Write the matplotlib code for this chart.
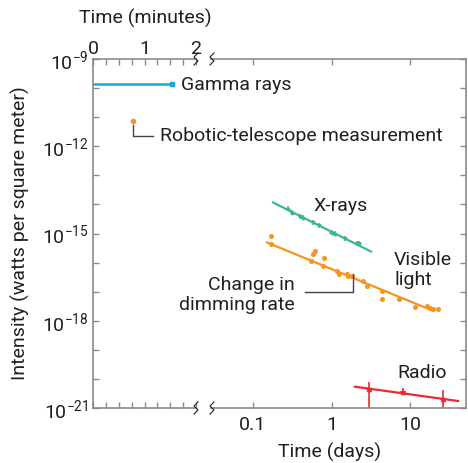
import numpy as np
import matplotlib
matplotlib.use("Agg")
import matplotlib.pyplot as plt
from matplotlib.lines import Line2D
from matplotlib.ticker import NullFormatter, NullLocator

plt.rcParams['font.family'] = ['Roboto', 'DejaVu Sans']
plt.rcParams['mathtext.fontset'] = 'custom'
plt.rcParams['mathtext.rm'] = 'Roboto'
plt.rcParams['mathtext.it'] = 'Roboto:italic'
plt.rcParams['mathtext.bf'] = 'Roboto:bold'

# data
gamma_t = [0.0, 1.53]          # minutes
gamma_f = [1.38e-10, 1.38e-10]
robotic_t = [0.78]
robotic_f = [7.2e-12]

xray_d = [0.279, 0.314, 0.397, 0.434, 0.581, 0.693, 1.01, 1.11, 1.49, 2.11, 2.24]
xray_f = [7.2e-15, 5.2e-15, 3.9e-15, 3.5e-15, 2.4e-15, 1.9e-15, 1.07e-15, 1.0e-15, 6.8e-16, 4.6e-16, 4.6e-16]
xray_fit_d = [0.18, 3.18]
xray_fit_f = [1.17e-14, 2.4e-16]

vis_d = [0.169, 0.169, 0.548, 0.581, 0.617, 0.780, 0.802, 1.17, 1.25, 1.57, 1.62,
         1.82, 2.52, 2.83, 4.40, 4.40, 7.24, 11.6, 16.5, 18.0, 19.6, 22.8]
vis_f = [7.9e-16, 4.2e-16, 1.17e-16, 1.9e-16, 2.6e-16, 7.9e-17, 1.48e-16, 5.2e-17, 3.9e-17, 4.2e-17, 3.5e-17,
         3.5e-17, 2.4e-17, 1.6e-17, 1.07e-17, 5.8e-18, 5.8e-18, 3.0e-18, 3.3e-18, 2.8e-18, 2.6e-18, 2.6e-18]
vis_fit_d = [0.151, 19.6]
vis_fit_f = [4.9e-16, 2.2e-18]

radio_d = [3.0, 8.15, 26.1]
radio_f = [4.6e-21, 3.5e-21, 2.1e-21]
radio_lo = [1e-22, 2.7e-21, 1e-22]
radio_hi = [8.1e-21, 4.7e-21, 4.2e-21]
radio_fit_d = [1.99, 40.8]
radio_fit_f = [5.4e-21, 1.74e-21]

minute_ticks = [0, 1, 2]
day_ticks = [0.1, 1, 10]
day_labels = ['0.1', '1', '10']
ylabel_exps = [-21, -18, -15, -12, -9]

BLUE = '#1aa8df'
ORANGE = '#f7941d'
GREEN = '#3cb88c'
RED = '#ee2a30'
SPINE = '#8a8a8a'
TXT = '#231f20'
FS = 14

W, H = 468, 463
fig = plt.figure(figsize=(W / 100, H / 100), dpi=100)


def fx(x):
    return x / W


def fy(y):
    return 1 - y / H


bot, top = fy(408), fy(59)
axL = fig.add_axes([fx(93), bot, fx(196) - fx(93), top - bot])
axR = fig.add_axes([fx(211), bot, fx(466) - fx(211), top - bot])

for ax in (axL, axR):
    ax.set_yscale('log')
    ax.set_ylim(1e-21, 1e-9)
    for s in ax.spines.values():
        s.set_color(SPINE)
        s.set_linewidth(1.2)
    ax.tick_params(which='both', direction='in', color=SPINE, length=4, width=1,
                   labelsize=FS, labelcolor=TXT, pad=3)
    ax.set_yticks([10.0 ** e for e in ylabel_exps])
    ax.set_yticks([10.0 ** e for e in range(-21, -8)], minor=True)
    ax.yaxis.set_minor_formatter(NullFormatter())

# left panel (minutes)
axL.spines['right'].set_visible(False)
axL.set_xlim(0, 2.0)
axL.set_xticks(minute_ticks)
axL.set_xticks(np.arange(0, 2.01, 0.25), minor=True)
axL.tick_params(axis='x', which='both', top=True, bottom=True, labeltop=True, labelbottom=False, pad=1)
axL.set_yticklabels([r'$10^{%d}$' % e for e in ylabel_exps])

axL.plot(gamma_t, gamma_f, color=BLUE, lw=1.8)
axL.plot(gamma_t[-1], gamma_f[-1], 's', color=BLUE, ms=3.5)
axL.plot(robotic_t, robotic_f, 'o', color=ORANGE, ms=3)
axL.plot([robotic_t[0], robotic_t[0], 1.165], [5.3e-12, 2.2e-12, 2.2e-12], color='#444444', lw=1)

# right panel (days)
axR.spines['left'].set_visible(False)
axR.set_xscale('log')
axR.set_xlim(0.0292, 51.6)
axR.set_xticks(day_ticks)
axR.set_xticklabels(day_labels)
axR.xaxis.set_minor_locator(NullLocator())
axR.tick_params(axis='x', which='both', top=True, bottom=True, labeltop=False, pad=6)
axR.tick_params(axis='y', which='both', left=False, right=True, labelleft=False)

xe = [np.array(xray_f) * (1 - 10 ** -0.08), np.array(xray_f) * (10 ** 0.08 - 1)]
xx = [np.array(xray_d) * (1 - 10 ** -0.03), np.array(xray_d) * (10 ** 0.03 - 1)]
axR.plot(xray_fit_d, xray_fit_f, color=GREEN, lw=1.6)
axR.errorbar(xray_d, xray_f, yerr=xe, xerr=xx, fmt='o', ms=1.8, color=GREEN, elinewidth=1.1, capsize=0)

axR.plot(vis_fit_d, vis_fit_f, color=ORANGE, lw=1.6)
axR.plot(vis_d, vis_f, 'o', color=ORANGE, ms=2.6)

ry = [np.array(radio_f) - np.array(radio_lo), np.array(radio_hi) - np.array(radio_f)]
rx = [np.array(radio_d) * (1 - 10 ** -0.04), np.array(radio_d) * (10 ** 0.04 - 1)]
axR.plot(radio_fit_d, radio_fit_f, color=RED, lw=1.6)
axR.errorbar(radio_d, radio_f, yerr=ry, xerr=rx, fmt='^', ms=3, color=RED, elinewidth=1.2, capsize=0)
axR.plot([0.46, 1.88, 1.88], [1e-17, 1e-17, 3.9e-17], color='#444444', lw=1)

# labels
def label(x, y, s, **kw):
    kw.setdefault('va', 'center')
    fig.text(fx(x), fy(y), s, fontsize=FS, color=TXT, **kw)


label(145, 18, 'Time (minutes)', ha='center')
label(330, 452, 'Time (days)', ha='center')
label(20, 233, 'Intensity (watts per square meter)', ha='center', rotation=90)
label(181, 85, 'Gamma rays')
label(160, 136, 'Robotic-telescope measurement')
label(313, 206, 'X-rays')
label(394, 270, 'Visible\nlight', linespacing=1.15)
label(295, 295, 'Change in\ndimming rate', ha='right', multialignment='right', linespacing=1.15)
label(397, 373, 'Radio')

# axis break marks
def zig(x, y):
    xs = [x + 2, x - 2, x + 2, x - 2]
    ys = [y - 6, y - 2, y + 2, y + 6]
    fig.add_artist(Line2D([fx(v) for v in xs], [fy(v) for v in ys], color=TXT, lw=0.8))


for yy in (59, 408):
    zig(196, yy)
    zig(212, yy)

fig.savefig('out.png', dpi=100)
